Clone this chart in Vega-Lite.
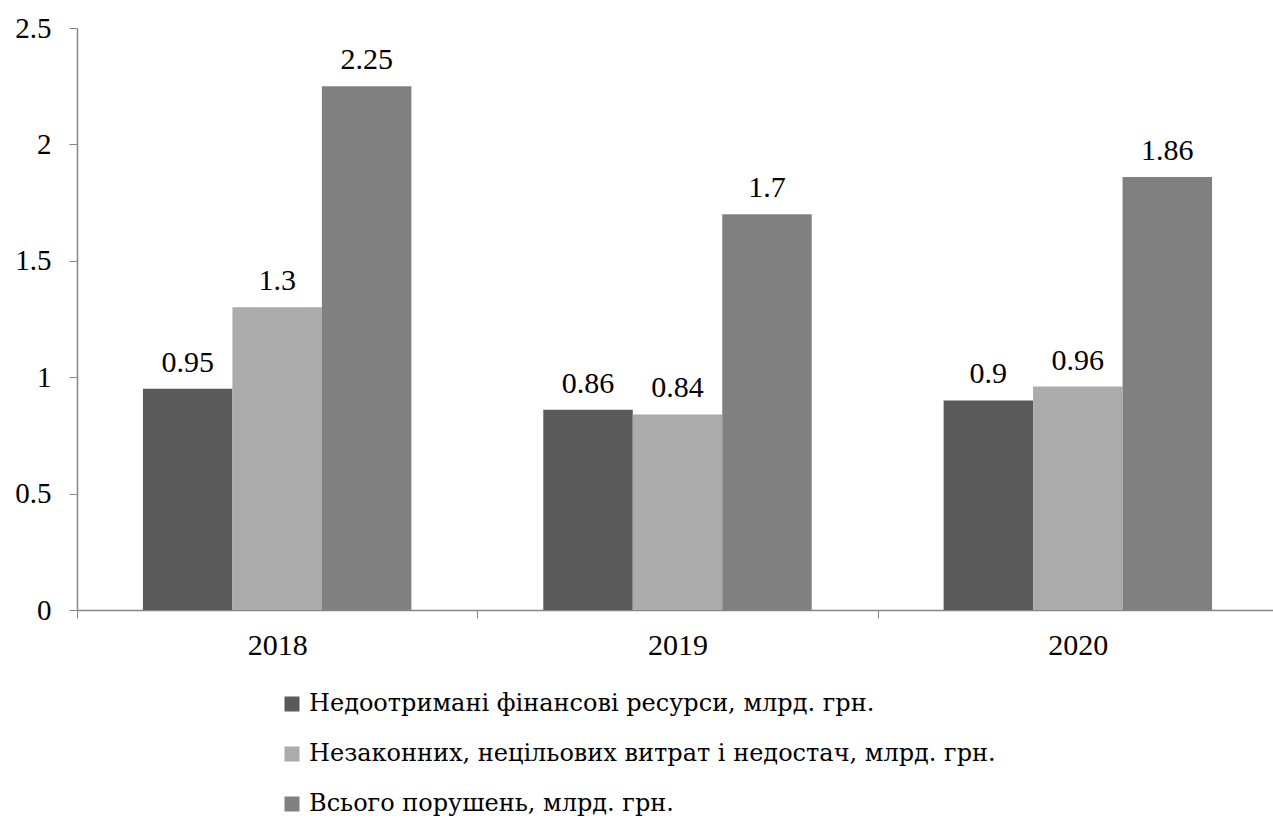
{
  "$schema": "https://vega.github.io/schema/vega-lite/v6.json",
  "width": 1201,
  "height": 582,
  "autosize": {"type": "none"},
  "padding": {"left": 77, "top": 28, "right": 0, "bottom": 215},
  "background": "white",
  "config": {
    "font": "Liberation Serif",
    "view": {"stroke": null}
  },
  "data": {
    "values": [
      {"year": "2018", "series": "Недоотримані фінансові ресурси, млрд. грн.", "value": 0.95},
      {"year": "2018", "series": "Незаконних, нецільових витрат і недостач, млрд. грн.", "value": 1.3},
      {"year": "2018", "series": "Всього порушень, млрд. грн.", "value": 2.25},
      {"year": "2019", "series": "Недоотримані фінансові ресурси, млрд. грн.", "value": 0.86},
      {"year": "2019", "series": "Незаконних, нецільових витрат і недостач, млрд. грн.", "value": 0.84},
      {"year": "2019", "series": "Всього порушень, млрд. грн.", "value": 1.7},
      {"year": "2020", "series": "Недоотримані фінансові ресурси, млрд. грн.", "value": 0.9},
      {"year": "2020", "series": "Незаконних, нецільових витрат і недостач, млрд. грн.", "value": 0.96},
      {"year": "2020", "series": "Всього порушень, млрд. грн.", "value": 1.86}
    ]
  },
  "encoding": {
    "x": {
      "field": "year",
      "type": "nominal",
      "scale": {"paddingInner": 0, "paddingOuter": 0},
      "axis": {
        "title": null,
        "labelAngle": 0,
        "labelFont": "Liberation Serif",
        "labelFontSize": 30,
        "labelColor": "#000000",
        "labelPadding": 12,
        "domainColor": "#868686",
        "domainWidth": 1.5,
        "tickColor": "#868686",
        "tickSize": 8,
        "tickBand": "extent",
        "grid": false
      }
    },
    "xOffset": {
      "field": "series",
      "type": "nominal",
      "scale": {
        "paddingInner": 0,
        "paddingOuter": 0.737,
        "domain": [
          "Недоотримані фінансові ресурси, млрд. грн.",
          "Незаконних, нецільових витрат і недостач, млрд. грн.",
          "Всього порушень, млрд. грн."
        ]
      }
    },
    "y": {
      "field": "value",
      "type": "quantitative",
      "scale": {"domain": [0, 2.5], "nice": false},
      "axis": {
        "title": null,
        "values": [0, 0.5, 1, 1.5, 2, 2.5],
        "labelExpr": "'' + datum.value",
        "labelFont": "Liberation Serif",
        "labelFontSize": 29,
        "labelColor": "#000000",
        "labelPadding": 18,
        "domainColor": "#868686",
        "domainWidth": 1.5,
        "tickColor": "#868686",
        "tickSize": 8,
        "grid": false
      }
    }
  },
  "layer": [
    {
      "mark": {"type": "bar"},
      "encoding": {
        "color": {
          "field": "series",
          "type": "nominal",
          "scale": {
            "domain": [
              "Недоотримані фінансові ресурси, млрд. грн.",
              "Незаконних, нецільових витрат і недостач, млрд. грн.",
              "Всього порушень, млрд. грн."
            ],
            "range": ["#5a5a5a", "#ababab", "#808080"]
          },
          "legend": {
            "title": null,
            "orient": "none",
            "legendX": 203,
            "legendY": 664,
            "direction": "vertical",
            "symbolType": "square",
            "symbolSize": 225,
            "symbolStrokeWidth": 0,
            "labelFont": "DejaVu Serif",
            "labelFontSize": 24,
            "labelColor": "#000000",
            "labelOffset": 5,
            "labelLimit": 0,
            "rowPadding": 26
          }
        }
      }
    },
    {
      "mark": {"type": "text", "baseline": "alphabetic", "dy": -17, "fontSize": 30, "font": "Liberation Serif", "color": "#000000"},
      "encoding": {
        "text": {"field": "value", "type": "quantitative", "format": "~g"}
      }
    }
  ]
}
